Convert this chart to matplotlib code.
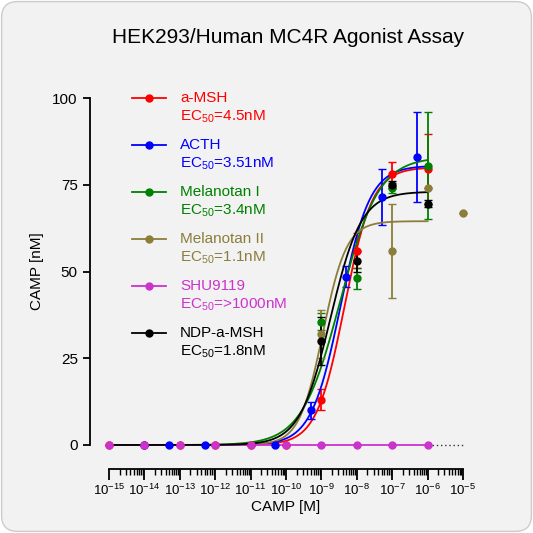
import numpy as np
import matplotlib
matplotlib.use("Agg")
import matplotlib.pyplot as plt
from matplotlib.patches import FancyBboxPatch

plt.rcParams['font.family'] = ['Liberation Sans', 'DejaVu Sans']
plt.rcParams['mathtext.fontset'] = 'custom'
plt.rcParams['mathtext.rm'] = 'Liberation Sans'

names = ["a-MSH", "ACTH", "Melanotan I", "Melanotan II", "SHU9119", "NDP-a-MSH"]
ec50_labels = ["4.5nM", "3.51nM", "3.4nM", "1.1nM", ">1000nM", "1.8nM"]
colors = ["#ff0000", "#0000ff", "#008000", "#8b7d3a", "#cc33cc", "#000000"]
log_ec50 = [np.log10(4.5e-9), np.log10(3.51e-9), np.log10(3.4e-9), np.log10(1.1e-9), None, np.log10(1.8e-9)]
tops = [80, 80.5, 83, 64.5, 0, 73]
hills = [1.1, 1.05, 0.8, 1.3, 1, 1.0]

x_red = [-15, -14, -13, -12, -11, -10, -9, -8, -7, -6]
y_red = [0, 0, 0, 0, 0, 0, 13, 56, 78, 79.5]
e_red = [0, 0, 0, 0, 0, 0, 3, 5, 3.5, 10]
x_blue = [-14, -13.3, -12.3, -10.3, -9.3, -8.3, -7.3, -6.3]
y_blue = [0, 0, 0, 0, 10, 48.5, 71.5, 83]
e_blue = [0, 0, 0, 0, 2.5, 3, 8, 13]
x_green = [-9, -8, -7, -6]
y_green = [35.5, 48, 74, 80.5]
e_green = [2.5, 3, 1.5, 15.5]
x_mel2 = [-9, -7, -6, -5]
y_mel2 = [32, 56, 74, 67]
e_mel2 = [7, 13.5, 0, 0]
x_shu = [-15, -14, -13, -12, -11, -10, -9, -8, -7, -6]
y_shu = [0, 0, 0, 0, 0, 0, 0, 0, 0, 0]
x_ndp = [-9, -8, -7, -6]
y_ndp = [30, 53, 75, 69.5]
e_ndp = [7, 3, 1, 1]

series = [(x_red, y_red, e_red), (x_blue, y_blue, e_blue), (x_green, y_green, e_green),
          (x_mel2, y_mel2, e_mel2), (x_shu, y_shu, [0]*len(x_shu)), (x_ndp, y_ndp, e_ndp)]

fig = plt.figure(figsize=(5.33, 5.33), dpi=100)
fig.patch.set_facecolor("white")
bg = FancyBboxPatch((0.003, 0.003), 0.994, 0.994, boxstyle="round,pad=0,rounding_size=0.03",
                    transform=fig.transFigure, facecolor="#f2f2f2", edgecolor="#cccccc", lw=1, zorder=-10)
fig.patches.append(bg)
ax = fig.add_axes([109/533, 1-445/533, 354/533, 347/533])
ax.set_facecolor("none")
ax.set_xscale("log")
ax.set_xlim(1e-15, 1e-5)
ax.set_ylim(0, 100)

xs = np.logspace(-15, -6, 400)
for i, (x, y, e) in enumerate(series):
    c = colors[i]
    if log_ec50[i] is not None:
        yc = tops[i] / (1 + 10 ** ((log_ec50[i] - np.log10(xs)) * hills[i]))
        ax.plot(xs, yc, color=c, lw=1.3, clip_on=False)
    else:
        ax.plot(xs, np.zeros_like(xs), color=c, lw=1.3, clip_on=False)
        ax.plot([1e-6, 1e-5], [0, 0], color="#333333", lw=1, ls=(0, (1, 2)), clip_on=False)
    xv = 10.0 ** np.array(x)
    ax.errorbar(xv, y, yerr=e, fmt="o", color=c, ms=5, capsize=3, lw=1.3, clip_on=False)

for s in ["top", "right"]:
    ax.spines[s].set_visible(False)
ax.spines["left"].set_position(("outward", 14))
ax.spines["bottom"].set_position(("outward", 17))
ax.spines["left"].set_linewidth(1.3)
ax.spines["bottom"].set_linewidth(1.3)
ax.set_yticks([0, 25, 50, 75, 100])
ax.tick_params(axis="y", labelsize=11, width=1.3, length=5)
ax.set_xticks([10.0 ** k for k in range(-15, -4)])
ax.set_xticklabels([f"$10^{{{k}}}$" for k in range(-15, -4)])
ax.xaxis.set_minor_locator(matplotlib.ticker.LogLocator(base=10, subs=np.arange(2, 10), numticks=100))
ax.xaxis.set_minor_formatter(matplotlib.ticker.NullFormatter())
ax.tick_params(axis="x", which="major", labelsize=9.5, width=1.3, length=8, pad=2)
ax.tick_params(axis="x", which="minor", width=1, length=4)
ax.set_xlabel("CAMP [M]", fontsize=11, labelpad=2)
ax.set_ylabel("CAMP [nM]", fontsize=11, labelpad=6)

fig.text(0.54, 0.93, "HEK293/Human MC4R Agonist Assay", ha="center", va="center", fontsize=15)

for i in range(6):
    yt = 1 - (98 + i * 47) / 533
    fig.lines.append(matplotlib.lines.Line2D([132/533, 166/533], [yt, yt], color=colors[i], lw=1.3, transform=fig.transFigure))
    fig.lines.append(matplotlib.lines.Line2D([149/533], [yt], color=colors[i], marker="o", ms=5, transform=fig.transFigure))
    fig.text(180/533, yt, names[i], color=colors[i], fontsize=11, va="center")
    fig.text(180/533, yt - 19/533, "EC$_{50}$=" + ec50_labels[i], color=colors[i], fontsize=11, va="center")

fig.savefig("out.png", dpi=100, facecolor=fig.get_facecolor())
